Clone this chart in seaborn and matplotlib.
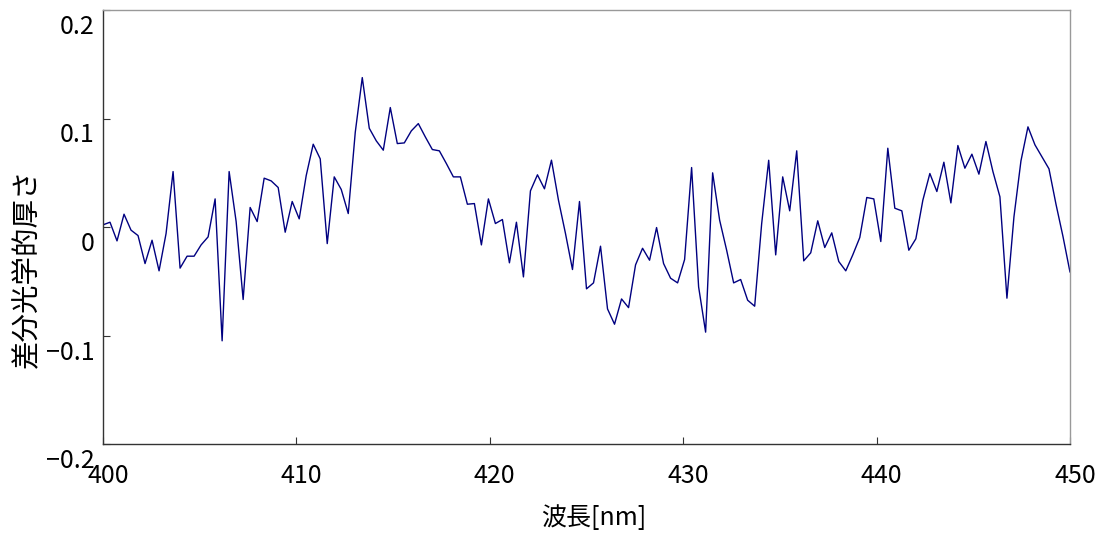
import numpy as np
import matplotlib
matplotlib.use("Agg")
import matplotlib.pyplot as plt
import matplotlib.transforms as mtransforms
import seaborn as sns

# 波長 400-450nm, 139 sample points
wl_start = 400
wl_end = 450
thickness = [
    0.0020, 0.0044, -0.0128, 0.0118, -0.0029, -0.0079, -0.0337, -0.0122, -0.0404, -0.0060,
    0.0511, -0.0379, -0.0269, -0.0269, -0.0165, -0.0091, 0.0259, -0.1049, 0.0511, 0.0050,
    -0.0668, 0.0180, 0.0050, 0.0450, 0.0425, 0.0364, -0.0048, 0.0235, 0.0075, 0.0474,
    0.0763, 0.0628, -0.0153, 0.0462, 0.0346, 0.0124, 0.0873, 0.1377, 0.0910, 0.0794,
    0.0708, 0.1101, 0.0769, 0.0775, 0.0886, 0.0953, 0.0830, 0.0714, 0.0702, 0.0585,
    0.0462, 0.0462, 0.0210, 0.0216, -0.0165, 0.0259, 0.0032, 0.0069, -0.0330, 0.0044,
    -0.0460, 0.0333, 0.0481, 0.0352, 0.0616, 0.0247, -0.0060, -0.0392, 0.0235, -0.0570,
    -0.0515, -0.0177, -0.0755, -0.0896, -0.0663, -0.0743, -0.0349, -0.0196, -0.0306, -0.0005,
    -0.0337, -0.0472, -0.0515, -0.0300, 0.0548, -0.0552, -0.0969, 0.0499, 0.0063, -0.0214,
    -0.0515, -0.0484, -0.0675, -0.0730, 0.0032, 0.0615, -0.0257, 0.0462, 0.0149, 0.0702,
    -0.0312, -0.0238, 0.0057, -0.0189, -0.0054, -0.0318, -0.0404, -0.0257, -0.0097, 0.0272,
    0.0259, -0.0134, 0.0726, 0.0173, 0.0149, -0.0214, -0.0109, 0.0247, 0.0493, 0.0327,
    0.0597, 0.0222, 0.0751, 0.0542, 0.0671, 0.0487, 0.0788, 0.0511, 0.0278, -0.0656,
    0.0093, 0.0609, 0.0923, 0.0757, 0.0646, 0.0536, 0.0210, -0.0088, -0.0416,
]
x_ticks = [400, 410, 420, 430, 440, 450]
y_ticks = [-0.2, -0.1, 0, 0.1, 0.2]
y_tick_labels = ["\u22120.2", "\u22120.1", "0", "0.1", "0.2"]

wavelength = np.linspace(wl_start, wl_end, len(thickness))

sns.set_style("white")
plt.rcParams['font.family'] = ['Noto Sans CJK JP', 'DejaVu Sans']

W, H = 1109, 539
fig = plt.figure(figsize=(W / 100, H / 100), dpi=100)
ax = fig.add_axes([103 / W, 1 - 444 / H, 967 / W, 434 / H])

sns.lineplot(x=wavelength, y=thickness, ax=ax, color="#000080", linewidth=1.0)

ax.set_xlim(400, 450)
ax.set_ylim(-0.2, 0.2)
ax.set_xticks(x_ticks)
ax.set_xticklabels([str(t) for t in x_ticks])
ax.set_yticks(y_ticks)
ax.set_yticklabels(y_tick_labels)

ax.tick_params(axis='both', direction='in', length=5, width=0.8, color='#333333',
               labelsize=18, labelcolor='black', bottom=True, left=True,
               top=False, right=False)
ax.tick_params(axis='x', pad=14)
ax.tick_params(axis='y', pad=6)

for side in ['left', 'bottom']:
    ax.spines[side].set_color('#333333')
    ax.spines[side].set_linewidth(1.0)
for side in ['top', 'right']:
    ax.spines[side].set_color('#999999')
    ax.spines[side].set_linewidth(1.0)

# labels sit a bit off their ticks in the original
y_shift = mtransforms.ScaledTranslation(0, -14 / 100, fig.dpi_scale_trans)
for lab in ax.get_yticklabels():
    lab.set_transform(lab.get_transform() + y_shift)
x_shift = mtransforms.ScaledTranslation(5 / 100, 0, fig.dpi_scale_trans)
for lab in ax.get_xticklabels():
    lab.set_transform(lab.get_transform() + x_shift)

fig.text(594 / W, 1 - 518 / H, "波長[nm]", ha='center', va='center', fontsize=18,
         color='black')
fig.text(27 / W, 1 - 268 / H, "差分光学的厚さ", ha='center', va='center',
         rotation=90, fontsize=20.5, color='black')

fig.savefig("out.png", dpi=100)
